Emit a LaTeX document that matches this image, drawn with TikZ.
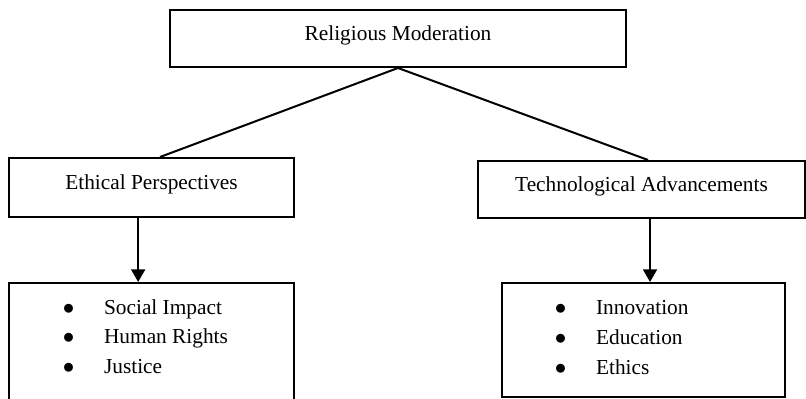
\documentclass[tikz,border=0pt]{standalone}
\usepackage{fontspec}
\setmainfont{Liberation Serif}
\usetikzlibrary{arrows.meta}
\tikzset{
  box/.style={draw,line width=1.5pt,inner sep=0pt,font=\fontsize{16}{19}\selectfont},
  titlebox/.style={box,text depth=8pt},
  itemlist/.style={anchor=west,inner sep=0pt,font=\fontsize{16}{19}\selectfont},
  link/.style={line width=1.5pt},
  pointer/.style={line width=1.5pt,-{Triangle[width=10.5pt,length=9.5pt]}},
}
\newcommand{\itemrows}[3]{\renewcommand{\arraystretch}{1.18}%
  \begin{tabular}{@{}l@{\hspace{22.2pt}}l@{}}$\bullet$ & #1\\ $\bullet$ & #2\\ $\bullet$ & #3\end{tabular}}
\begin{document}
\begin{tikzpicture}[x=0.75pt,y=-0.75pt]
  \useasboundingbox (0,0) rectangle (806,399);
  % top
  \node[titlebox,minimum width=342pt,minimum height=42.75pt,at={(398,38.5)}] (relmod) {Religious Moderation};

  % middle
  \node[titlebox,minimum width=213.75pt,minimum height=44.25pt,at={(151.5,187.5)}] (ethics) {Ethical Perspectives};
  \node[titlebox,minimum width=245.25pt,minimum height=42.75pt,at={(641.5,189.5)}] (techadv) {Technological Advancements};
  %edges
  \draw[link] (relmod.south) -- ([xshift=6.4pt]ethics.north);
  \draw[link] (relmod.south) -- ([xshift=4.9pt]techadv.north);

  % bottom
  \node[box,minimum width=213.75pt,minimum height=90pt,at={(151.5,343)}] (ethicsitems) {};
  \node[box,minimum width=212.25pt,minimum height=85.5pt,at={(643.5,340)}] (techitems) {};
  %labels
  \node[itemlist,at={(62.7,338)}] (ethicslist) {\itemrows{Social Impact}{Human Rights}{Justice}};
  \node[itemlist,at={(554.7,338.5)}] (techlist) {\itemrows{Innovation}{Education}{Ethics}};
  %arrows
  \draw[pointer] ([xshift=-10pt]ethics.south) -- ([xshift=-10pt]ethics.south |- ethicsitems.north);
  \draw[pointer] ([xshift=6.4pt]techadv.south) -- ([xshift=6.4pt]techadv.south |- techitems.north);
\end{tikzpicture}
\end{document}
